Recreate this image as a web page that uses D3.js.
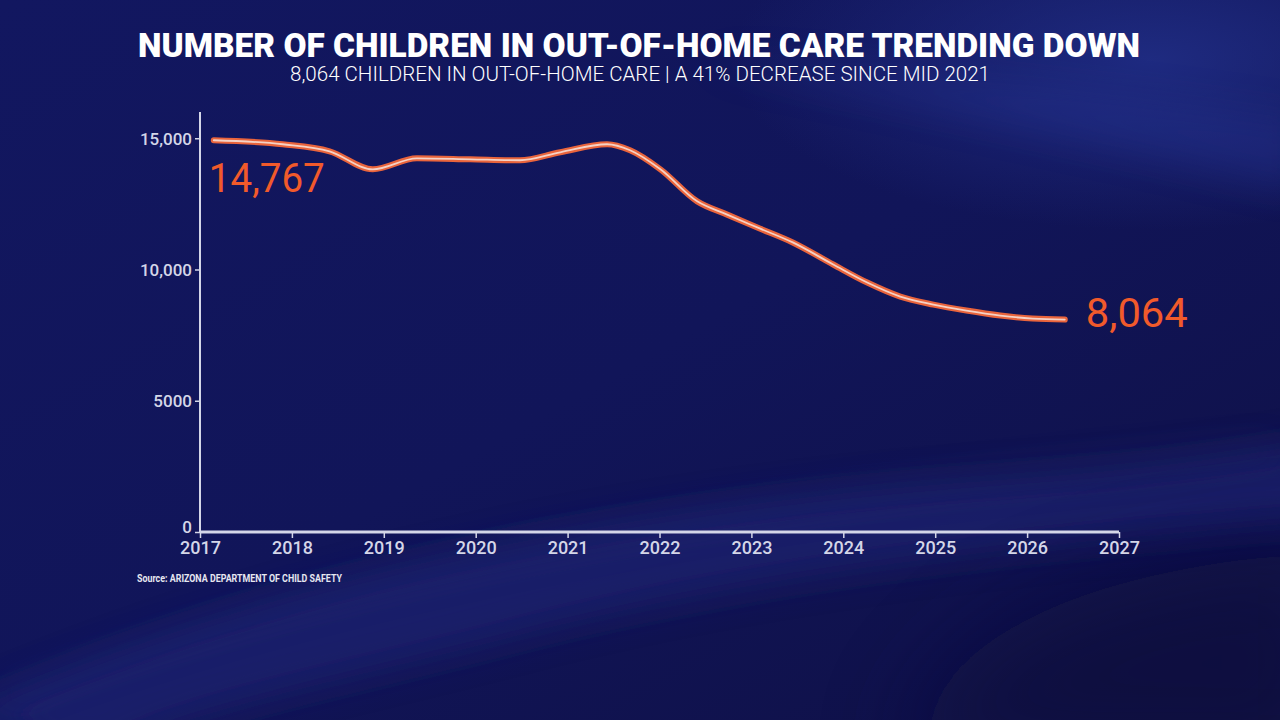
<!DOCTYPE html>
<html><head><meta charset="utf-8">
<script src="https://cdn.jsdelivr.net/npm/d3@7"></script>
<style>
html,body{margin:0;padding:0;background:#111658;overflow:hidden;}
svg{display:block;}
</style></head>
<body>
<svg id="c" width="1280" height="720"></svg>
<script>
// ---- data ----
const years = [2017.15,2017.90,2018.41,2018.88,2019.36,2019.94,2020.48,2020.92,2021.43,2021.68,2022.01,2022.41,2022.73,2023.09,2023.45,2023.89,2024.26,2024.62,2024.98,2025.34,2025.71,2026.06,2026.41];
const children = [14924,14771,14504,13817,14237,14199,14161,14466,14771,14542,13817,12596,12100,11565,11031,10191,9504,8970,8664,8435,8244,8130,8092];
const yTickValues = [0,5000,10000,15000];
const yTickLabels = ["0","5000","10,000","15,000"];
const xTickValues = [2017,2018,2019,2020,2021,2022,2023,2024,2025,2026,2027];
const startLabel = "14,767";
const endLabel = "8,064";
const titleText = "NUMBER OF CHILDREN IN OUT-OF-HOME CARE TRENDING DOWN";
const subtitleText = "8,064 CHILDREN IN OUT-OF-HOME CARE | A 41% DECREASE SINCE MID 2021";
const sourceText = "Source: ARIZONA DEPARTMENT OF CHILD SAFETY";

const svg = d3.select("#c");
const defs = svg.append("defs");

// background
const bg = defs.append("linearGradient").attr("id","bg").attr("x1","0").attr("y1","0").attr("x2","1").attr("y2","1");
bg.append("stop").attr("offset","0").attr("stop-color","#121760");
bg.append("stop").attr("offset","0.5").attr("stop-color","#111559");
bg.append("stop").attr("offset","1").attr("stop-color","#0f1045");
svg.append("rect").attr("width",1280).attr("height",720).attr("fill","url(#bg)");

const glowTR = defs.append("radialGradient").attr("id","gtr").attr("cx","0.5").attr("cy","0.5").attr("r","0.5");
glowTR.append("stop").attr("offset","0").attr("stop-color","#22308a").attr("stop-opacity",0.8);
glowTR.append("stop").attr("offset","1").attr("stop-color","#22308a").attr("stop-opacity",0);
svg.append("ellipse").attr("cx",1150).attr("cy",60).attr("rx",420).attr("ry",170).attr("fill","url(#gtr)");

const blur = defs.append("filter").attr("id","bl").attr("x","-50%").attr("y","-50%").attr("width","200%").attr("height","200%");
blur.append("feGaussianBlur").attr("stdDeviation",18);
const blur2 = defs.append("filter").attr("id","bl2").attr("x","-50%").attr("y","-50%").attr("width","200%").attr("height","200%");
blur2.append("feGaussianBlur").attr("stdDeviation",45);
// diagonal light band bottom
svg.append("path")
  .attr("d","M -50 720 C 300 560, 700 500, 1000 480 C 1150 470, 1250 455, 1330 440 L 1330 520 C 1100 540, 800 560, 500 640 C 300 690, 150 720, 100 760 Z")
  .attr("fill","#1e2470").attr("opacity",0.75).attr("filter","url(#bl)");
svg.append("path")
  .attr("d","M 0 700 C 300 580, 700 500, 1280 450")
  .attr("fill","none").attr("stroke","#3a4496").attr("stroke-width",6).attr("opacity",0.35).attr("filter","url(#bl)");
svg.append("path")
  .attr("d","M 900 760 C 950 620, 1100 570, 1330 550 L 1330 760 Z")
  .attr("fill","#0d0e3a").attr("opacity",0.6).attr("filter","url(#bl2)");
// top-right diagonal streak
svg.append("path")
  .attr("d","M 700 60 C 900 100, 1100 140, 1300 190 L 1300 120 C 1100 90, 900 70, 700 60 Z")
  .attr("fill","#283694").attr("opacity",0.35).attr("filter","url(#bl)");

// scales
const x = d3.scaleLinear().domain([2017,2027]).range([200,1119]);
const y = d3.scaleLinear().domain([0,16000]).range([532,112]);

const tickColor = "#d4d6e8";
// y axis
const yAxis = svg.append("g").attr("transform","translate(200,0)")
  .call(d3.axisLeft(y).tickValues(yTickValues).tickSize(5).tickPadding(3)
    .tickFormat((d,i)=>yTickLabels[i]));
yAxis.select(".domain").attr("stroke",tickColor).attr("stroke-width",2).attr("d","M0,532V112");
yAxis.selectAll(".tick line").attr("stroke",tickColor).attr("stroke-width",1.5);
yAxis.selectAll(".tick text").attr("fill",tickColor).attr("font-family","Roboto").attr("font-weight",500).attr("font-size",17)
  .attr("dy",d=> d===0 ? "0.05em" : "0.34em");

// x axis
const xAxis = svg.append("g").attr("transform","translate(0,532)")
  .call(d3.axisBottom(x).tickValues(xTickValues).tickSize(6).tickPadding(3).tickFormat(d3.format("d")));
xAxis.select(".domain").attr("stroke",tickColor).attr("stroke-width",3).attr("d","M200,0H1119");
xAxis.selectAll(".tick line").attr("stroke",tickColor).attr("stroke-width",1.5);
xAxis.selectAll(".tick text").attr("fill",tickColor).attr("font-family","Roboto").attr("font-weight",500).attr("font-size",18);

// line
const pts = years.map((d,i)=>[d,children[i]]);
const line = d3.line().x(d=>x(d[0])).y(d=>y(d[1])).curve(d3.curveMonotoneX);
svg.append("path").attr("d",line(pts)).attr("fill","none").attr("stroke","#e9643c").attr("stroke-width",6).attr("stroke-linecap","round").attr("stroke-linejoin","round");
svg.append("path").attr("d",line(pts)).attr("fill","none").attr("stroke","#f5d2c6").attr("stroke-width",1.8).attr("stroke-linecap","round");

// value labels
svg.append("text").attr("x",x(years[0])-5).attr("y",192).text(startLabel)
  .attr("font-family","Roboto").attr("font-size",40).attr("fill","#f15a2b").attr("textLength",116).attr("lengthAdjust","spacingAndGlyphs");
svg.append("text").attr("x",x(years[years.length-1])+21).attr("y",327).text(endLabel)
  .attr("font-family","Roboto").attr("font-size",40).attr("fill","#f15a2b").attr("textLength",102).attr("lengthAdjust","spacingAndGlyphs");

// titles
svg.append("text").attr("x",639).attr("y",57).attr("text-anchor","middle").text(titleText)
  .attr("font-family","Roboto").attr("font-weight",900).attr("font-size",33).attr("fill","#ffffff")
  .attr("textLength",1002).attr("lengthAdjust","spacingAndGlyphs");
svg.append("text").attr("x",640).attr("y",81).attr("text-anchor","middle").text(subtitleText)
  .attr("font-family","Roboto").attr("font-weight",300).attr("font-size",19.5).attr("fill","#ffffff")
  .attr("textLength",700).attr("lengthAdjust","spacingAndGlyphs");
svg.append("text").attr("x",137).attr("y",582).text(sourceText)
  .attr("font-family","Roboto").attr("font-weight",700).attr("font-size",10.5).attr("fill","#e6e7f0")
  .attr("textLength",205).attr("lengthAdjust","spacingAndGlyphs");
</script>
</body></html>
